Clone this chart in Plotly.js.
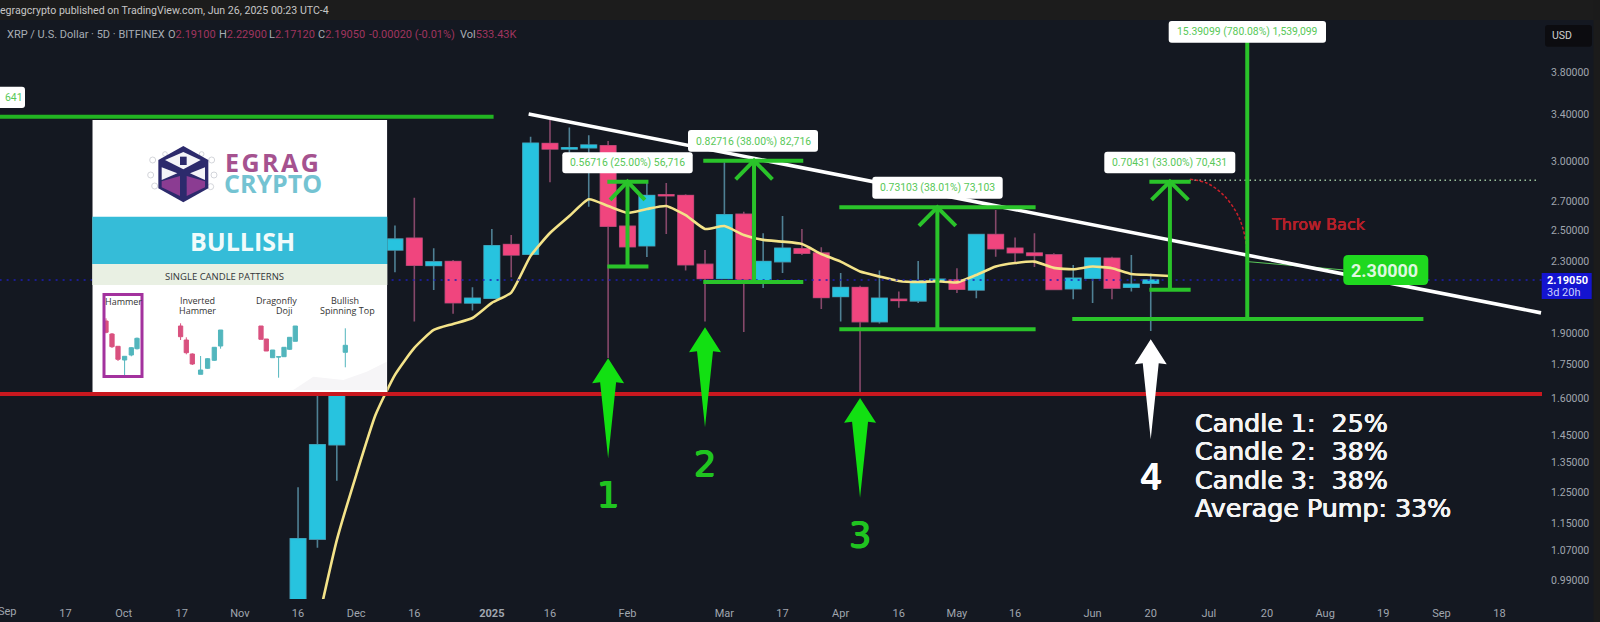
<!DOCTYPE html>
<html><head><meta charset="utf-8">
<script src="https://cdn.plot.ly/plotly-3.0.1.min.js"></script>
<style>html,body{margin:0;padding:0;background:#141821;overflow:hidden}#c{width:1600px;height:622px}</style>
</head><body><div id="c"></div>
<script>
// ---- main candles (index, open, high, low, close) ----
const candleIdx=[0,1,2,3,4,5,6,7,8,9,10,11,12,13,14,15,16,17,18,19,20,21,22,23,24,25,26,27,28,29,30,31,32,33,34,35,36,37,38,39,40,41,42,43,44];
const opens=[0.92,1.103,1.416,2.05,2.40,2.372,2.447,2.276,2.300,2.061,2.087,2.406,2.345,3.144,3.099,3.109,3.126,2.526,2.399,2.745,2.740,2.283,2.199,2.607,2.191,2.300,2.379,2.352,2.097,2.147,1.962,2.081,2.073,2.181,2.191,2.134,2.470,2.383,2.353,2.341,2.141,2.201,2.320,2.149,2.172];
const highs=[1.265,1.616,2.15,2.80,2.60,2.530,2.724,2.383,2.310,2.149,2.508,2.468,3.202,3.3465,3.28,3.215,3.166,2.555,2.832,2.832,2.749,2.372,2.992,2.625,2.480,2.596,2.508,2.389,2.231,2.158,2.246,2.125,2.304,2.220,2.260,2.475,2.637,2.452,2.480,2.352,2.280,2.322,2.330,2.341,2.229];
const lows=[0.90,1.078,1.287,1.95,2.25,2.236,1.962,2.134,2.003,2.020,2.087,2.207,2.345,2.838,2.962,2.660,1.782,2.372,2.328,2.475,2.246,1.962,2.199,1.909,2.144,2.231,2.341,2.028,1.962,1.625,1.952,2.036,2.061,2.173,2.117,2.087,2.330,2.292,2.268,2.135,2.082,2.061,2.082,2.125,1.914];
const closes=[1.104,1.416,2.05,2.40,2.372,2.441,2.278,2.298,2.063,2.087,2.399,2.341,3.147,3.099,3.109,3.131,2.526,2.393,2.740,2.739,2.281,2.199,2.604,2.195,2.300,2.383,2.352,2.092,2.147,1.962,2.087,2.075,2.185,2.195,2.138,2.470,2.380,2.355,2.338,2.137,2.201,2.322,2.144,2.166,2.1905];
// ---- moving average ----
const maIdx=[1,2,3,4,5,6,7,8,9,10,11,12,13,14,15,16,17,18,19,20,21,22,23,24,25,26,27,28,29,30,31,32,33,34,35,36,37,38,39,40,41,42,43,44,45];
const maVals=[0.879,1.100,1.307,1.533,1.704,1.830,1.919,1.950,1.981,2.062,2.119,2.335,2.481,2.595,2.713,2.665,2.617,2.644,2.665,2.601,2.508,2.527,2.468,2.436,2.425,2.410,2.347,2.300,2.240,2.211,2.185,2.179,2.183,2.177,2.220,2.270,2.291,2.300,2.262,2.254,2.270,2.260,2.226,2.220,2.214];
// ---- axes ----
const xTickVals=[-12,-9,-6,-3,0,3,6,10,13,17,22,25,28,31,34,37,41,44,47,50,53,56,59,62];
const xTickText=['17','Oct','17','Nov','16','Dec','16','<b>2025</b>','16','Feb','Mar','17','Apr','16','May','16','Jun','20','Jul','20','Aug','19','Sep','18'];
const yTickVals=[3.8,3.4,3.0,2.7,2.5,2.3,1.9,1.75,1.6,1.45,1.35,1.25,1.15,1.07,0.99];
const yTickText=['3.80000','3.40000','3.00000','2.70000','2.50000','2.30000','1.90000','1.75000','1.60000','1.45000','1.35000','1.25000','1.15000','1.07000','0.99000'];
// ---- drawn levels ----
const trendK=[11.90,64.14], trendP=[3.400,2.008];
const resistanceK=[-15.4,10.09], resistanceP=[3.376,3.376];
const supportK=[-15.4,64.2], supportP=[1.620,1.620];
const priceLineK=[-15.4,64.2], priceLineP=[2.1905,2.1905];
const targetDotK=[46.0,63.98], targetDotP=[2.853,2.853];
const connectorK=[48.98,53.95], connectorP=[2.300,2.250];
const bigBaseK=[39.95,58.07], bigBaseP=[1.975,1.975];
const bigRiseK=[48.98,48.98], bigRiseP=[1.975,4.125];
const throwK=[46.03,46.89,47.75,48.44,48.78,48.98];
const throwP=[2.860,2.832,2.744,2.615,2.501,2.361];
// measure tools
const measK=[17.0,23.53,32.99,44.99];
const measTop=[2.842,3.005,2.656,2.842];
const measBottom=[2.270,2.179,1.923,2.135];
const measHead=[2.708,2.860,2.528,2.708];
const measLeft=[15.96,20.91,27.93,43.93];
const measRight=[18.08,26.07,38.06,46.06];
const measHeadHalf=[0.9,0.95,0.95,0.95];
// big arrows
const arrowK=[16.0,21.0,29.0,44.0];
const arrowTip=[1.781,1.933,1.603,1.872];
const arrowTail=[1.366,1.483,1.231,1.437];
const arrowColor=['#12e012','#12e012','#12e012','#ffffff'];
// ---- inset mini candles ----
const miniX=[13.7,19.7,25.7,32.3,39,44.7,88.3,94,100,108.3,115.3,122,128.3,168.7,174,180.3,186.3,191.7,197.3,203,253];
const miniO=[71,58,45.7,32,37,43.3,66,52,38,17.7,23.7,31.7,46,66,53,34.3,35,35.3,42.7,50.7,39.7];
const miniH=[73.7,59,46,35.7,45,54.5,68.7,54.7,38.7,36,34,45,62,66,53,42,35.2,45,55,66,63.7];
const miniL=[58.7,44,31,17,35.7,42.5,52,37.7,27,17.7,23,31,43.3,52.7,41,34.3,14.3,35,42,50.7,24.7];
const miniC=[59.7,45.3,32.7,35.7,44.3,53.7,55.3,39.3,28,22,33.3,44.7,62,52.7,41,42,35.2,44.7,54.7,66,46.7];

const PW=1542,PH=579,PT=20;
const X=px=>px/PW, Y=py=>(PT+PH-py)/PH;
const kPerPx=1/19.38;
const GREEN='#2ac32a';
const traces=[];
traces.push({type:'candlestick',x:candleIdx,open:opens,high:highs,low:lows,close:closes,
  increasing:{line:{color:'#4f8094',width:1.6},fillcolor:'#27c3df'},
  decreasing:{line:{color:'#86486a',width:1.6},fillcolor:'#f0457e'},hoverinfo:'skip',showlegend:false,whiskerwidth:0});
traces.push({type:'candlestick',x:candleIdx,open:opens,close:closes,
  high:opens.map((o,i)=>Math.max(o,closes[i])),low:opens.map((o,i)=>Math.min(o,closes[i])),
  increasing:{line:{color:'#27c3df',width:0.5},fillcolor:'#27c3df'},
  decreasing:{line:{color:'#f0457e',width:0.5},fillcolor:'#f0457e'},hoverinfo:'skip',showlegend:false,whiskerwidth:0});
const line=(x,y,color,width,extra)=>({type:'scatter',mode:'lines',x,y,hoverinfo:'skip',showlegend:false,
  line:Object.assign({color,width},extra||{})});
traces.push(line(maIdx,maVals,'#f4e389',2.6,{shape:'spline',smoothing:0.5}));
traces.push(line(priceLineK,priceLineP,'#1e1eb4',1.6,{dash:'2px 5px'}));
traces.push(line(resistanceK,resistanceP,'#22b522',4));
traces.push(line(supportK,supportP,'#c9181f',4));
traces.push(line(connectorK,connectorP,'#5ac85a',1));
traces.push(line(trendK,trendP,'#ffffff',3.6));
traces.push(line(targetDotK,targetDotP,'#9cc49c',1.3,{dash:'1.5px 3.5px'}));
traces.push(line(throwK,throwP,'#c8202a',1.5,{dash:'3px 2px',shape:'spline'}));
measK.forEach((k,i)=>{
  traces.push(line([measLeft[i],measRight[i]],[measTop[i],measTop[i]],GREEN,4));
  traces.push(line([measLeft[i],measRight[i]],[measBottom[i],measBottom[i]],GREEN,4));
  traces.push(line([k,k],[measTop[i],measBottom[i]],GREEN,4));
  traces.push(line([k-measHeadHalf[i],k,k+measHeadHalf[i]],[measHead[i],measTop[i],measHead[i]],GREEN,4));
});
traces.push(line(bigBaseK,bigBaseP,GREEN,4));
traces.push(line(bigRiseK,bigRiseP,GREEN,4));
arrowK.forEach((k,i)=>{
  const a=Math.log(arrowTip[i]), b=Math.log(arrowTail[i]);
  const barb=Math.exp(a+(b-a)*0.25), sh=Math.exp(a+(b-a)*0.24);
  const hw=16*kPerPx, sw=8*kPerPx;
  traces.push({type:'scatter',mode:'lines',x:[k,k+hw,k+sw,k,k-sw,k-hw,k],
    y:[arrowTip[i],barb,sh,arrowTail[i],sh,barb,arrowTip[i]],fill:'toself',fillcolor:arrowColor[i],
    line:{width:0,color:arrowColor[i]},hoverinfo:'skip',showlegend:false});
});
// inset
traces.push({type:'candlestick',xaxis:'x2',yaxis:'y2',x:miniX,open:miniO,high:miniH,low:miniL,close:miniC,
  increasing:{line:{color:'#52b6bd',width:1},fillcolor:'#52b6bd'},
  decreasing:{line:{color:'#d9517f',width:1},fillcolor:'#d9517f'},hoverinfo:'skip',showlegend:false,whiskerwidth:0});

// ---- decorations ----
const rr=(x0,y0,x1,y1,r,fill)=>({type:'path',xref:'paper',yref:'paper',layer:'above',fillcolor:fill,line:{width:0},
  path:`M${X(x0+r)} ${Y(y0)} L${X(x1-r)} ${Y(y0)} Q${X(x1)} ${Y(y0)} ${X(x1)} ${Y(y0+r)} L${X(x1)} ${Y(y1-r)} Q${X(x1)} ${Y(y1)} ${X(x1-r)} ${Y(y1)} L${X(x0+r)} ${Y(y1)} Q${X(x0)} ${Y(y1)} ${X(x0)} ${Y(y1-r)} L${X(x0)} ${Y(y0+r)} Q${X(x0)} ${Y(y0)} ${X(x0+r)} ${Y(y0)} Z`});
const rect=(x0,y0,x1,y1,fill)=>({type:'rect',xref:'paper',yref:'paper',layer:'above',x0:X(x0),x1:X(x1),y0:Y(y0),y1:Y(y1),fillcolor:fill,line:{width:0}});
// logo polygons given in inset crop coordinates
const cx=c=>80+c/3, cy=c=>110+c/3;
const poly=(pts,fill,stroke)=>({type:'path',xref:'paper',yref:'paper',layer:'above',fillcolor:fill,line:stroke?{color:stroke,width:1}:{width:0},
  path:'M'+pts.map(p=>X(cx(p[0]))+' '+Y(cy(p[1]))).join(' L')+' Z'});
const ring=(c,r)=>({type:'circle',xref:'paper',yref:'paper',layer:'above',x0:X(cx(c[0]-r)),x1:X(cx(c[0]+r)),y0:Y(cy(c[1]+r)),y1:Y(cy(c[1]-r)),line:{color:'#c9ccd2',width:0.8},fillcolor:'rgba(0,0,0,0)'});
const shapes=[
  {type:'rect',xref:'x2',yref:'y2',layer:'below',x0:0,x1:295,y0:0,y1:272,fillcolor:'#ffffff',line:{width:0}},
  rect(92.3,216.7,387.3,264,'#35bcd8'),
  rect(92.3,264,387.3,285,'#e9f0e3'),
  poly([[640,840],[700,800],[790,810],[860,785],[920,755],[920,840]],'#f6f5f7'),
  ring([218,150],9),ring([212,195],9),ring([224,228],9),ring([395,150],9),ring([402,195],9),ring([392,230],9),ring([255,132],7),ring([365,132],7),
  poly([[310,108],[385,150],[385,235],[310,277],[235,235],[235,150]],'#2c2a6c'),
  poly([[245,214],[300,198],[300,258],[245,232]],'#8b3c92'),
  poly([[375,214],[320,198],[320,258],[375,232]],'#8b3c92'),
  poly([[255,150],[310,126],[362,150],[310,178]],'#f4f4f8'),
  poly([[245,172],[245,210],[292,190]],'#f4f4f8'),
  poly([[375,172],[375,210],[330,190]],'#f4f4f8'),
  poly([[300,140],[320,140],[320,165],[300,165]],'#2c2a6c'),
  {type:'rect',xref:'paper',yref:'paper',layer:'above',x0:X(104),x1:X(142),y0:Y(294.5),y1:Y(376.5),fillcolor:'rgba(0,0,0,0)',line:{color:'#a3329e',width:3}},
  rect(0,0,1600,20,'#1c1c1c'),
  rect(1593.5,0,1600,622,'#1b1b1b'),
  rr(1545,25,1592,46.7,3,'#0c0c10'),
  rect(1541.7,273,1591.7,299,'#1414d0'),
  rr(-8,86.7,25,108,3,'#ffffff'),
  rr(562.3,152.3,692.7,173.3,3,'#ffffff'),
  rr(688,130,818,151.7,3,'#ffffff'),
  rr(872.3,176.7,1002.7,198.7,3,'#ffffff'),
  rr(1104.3,151.7,1235.3,173.3,3,'#ffffff'),
  rr(1168.7,21,1326,42.7,3,'#ffffff'),
  rr(1343.3,255,1428.3,285,5,'#1fd81f'),
];
const T=(px,py,text,size,color,o)=>Object.assign({xref:'paper',yref:'paper',x:X(px),y:Y(py),text,showarrow:false,
  xanchor:'center',yanchor:'middle',font:{family:'Roboto',size,color},borderpad:0},o||{});
const L={xanchor:'left'};
const V=s=>`<span style="color:#a0355f">${s}</span>`;
const heavy=(size,color,w)=>({family:'DejaVu Sans',size,color,shadow:`${w}px 0 0 ${color}, -${w}px 0 0 ${color}, 0 ${w}px 0 ${color}`});
const OS=(size,color)=>({font:{family:'Open Sans',size,color}});
const annotations=[
  T(-1,10.7,'egragcrypto published on TradingView.com, Jun 26, 2025 00:23 UTC-4',10.6,'#c6c6c6',L),
  T(6,34.5,'XRP / U.S. Dollar · 5D · BITFINEX',11,'#a8adb5',L),
  T(167,34.5,'O'+V('2.19100'),11,'#a8adb5',L),
  T(218,34.5,'H'+V('2.22900'),11,'#a8adb5',L),
  T(268,34.5,'L'+V('2.17120'),11,'#a8adb5',L),
  T(317,34.5,'C'+V('2.19050'),11,'#a8adb5',L),
  T(368,34.5,V('-0.00020 (-0.01%)'),11,'#a8adb5',L),
  T(459,34.5,'Vol'+V('533.43K'),11,'#a8adb5',L),
  T(7,611,'Sep',11,'#a0a6af'),
  T(1562,36,'USD',10.5,'#d0d0d0'),
  T(1567,280,'<b>2.19050</b>',11,'#ffffff'),
  T(1564,292.7,'3d 20h',11,'#c9d0ff'),
  T(14,97.5,'641',10.4,'#58c858'),
  T(627.5,162.8,'0.56716 (25.00%) 56,716',10.4,'#58c858'),
  T(753,141,'0.82716 (38.00%) 82,716',10.4,'#58c858'),
  T(937.5,187.7,'0.73103 (38.01%) 73,103',10.4,'#58c858'),
  T(1169.8,162.5,'0.70431 (33.00%) 70,431',10.4,'#58c858'),
  T(1247.3,32,'15.39099 (780.08%) 1,539,099',10.4,'#58c858'),
  T(1318,224,'Throw Back',16,'#b5202a',{font:heavy(16,'#b5202a',0.25)}),
  T(1384.3,270,'<b>2.30000</b>',18,'#dff7df'),
  T(608.3,495,'1',35,'#20c420',{font:heavy(35,'#20c420',0.7)}),
  T(705,464.3,'2',35,'#20c420',{font:heavy(35,'#20c420',0.7)}),
  T(860,535,'3',35,'#20c420',{font:heavy(35,'#20c420',0.7)}),
  T(1150.7,477.3,'4',35,'#ffffff',{font:heavy(35,'#ffffff',0.7)}),
  T(1194.3,423,'Candle 1:  25%',25.3,'#f4f4f4',{xanchor:'left',font:heavy(25.3,'#f4f4f4',0.4)}),
  T(1194.3,451.7,'Candle 2:  38%',25.3,'#f4f4f4',{xanchor:'left',font:heavy(25.3,'#f4f4f4',0.4)}),
  T(1194.3,480,'Candle 3:  38%',25.3,'#f4f4f4',{xanchor:'left',font:heavy(25.3,'#f4f4f4',0.4)}),
  T(1194.3,508,'Average Pump: 33%',25.3,'#f4f4f4',{xanchor:'left',font:heavy(25.3,'#f4f4f4',0.4)}),
  // inset
  T(272.3,161.7,'<b>E\u200aG\u200aR\u200aA\u200aG</b>',25,'#a5528f',OS(25,'#a5528f')),
  T(272.6,183.3,'<b>CRYPTO</b>',25,'#74c3d2',OS(25,'#74c3d2')),
  T(242.3,240.7,'<b>BULLISH</b>',25,'#f0fbfb',OS(25,'#f0fbfb')),
  T(224,276.7,'SINGLE CANDLE PATTERNS',9.5,'#33363a',OS(9.5,'#33363a')),
  T(123.3,301.7,'Hammer',9,'#333',OS(9,'#333')),
  T(197.7,300.5,'Inverted',9,'#333',OS(9,'#333')),
  T(197.7,310.5,'Hammer',9,'#333',OS(9,'#333')),
  T(276,300.5,'Dragonfly',9,'#333',OS(9,'#333')),
  T(284,310.5,'Doji',9,'#333',OS(9,'#333')),
  T(345,300.5,'Bullish',9,'#333',OS(9,'#333')),
  T(347,310.5,'Spinning Top',9,'#333',OS(9,'#333')),
];
const layout={
  width:1600,height:622,margin:{l:0,r:58,t:20,b:23,pad:0},
  paper_bgcolor:'#141821',plot_bgcolor:'#141821',showlegend:false,hovermode:false,boxgap:0.2,boxgroupgap:0,
  font:{family:'Roboto',color:'#a0a6af',size:11},
  xaxis:{domain:[0,1],range:[-15.38,64.19],tickmode:'array',tickvals:xTickVals,ticktext:xTickText,showgrid:false,zeroline:false,showline:false,
    rangeslider:{visible:false},ticks:'outside',ticklen:4,tickcolor:'#141821',tickfont:{family:'Roboto',size:11,color:'#a0a6af'},fixedrange:true},
  yaxis:{domain:[0,1],type:'log',side:'right',range:[Math.log10(0.9412),Math.log10(4.361)],tickmode:'array',tickvals:yTickVals,ticktext:yTickText,showgrid:false,zeroline:false,showline:false,
    ticks:'outside',ticklen:6,tickcolor:'#141821',tickfont:{family:'Roboto',size:10.5,color:'#a0a6af'},fixedrange:true},
  xaxis2:{domain:[92.3/PW,387.3/PW],anchor:'y2',range:[0,295],visible:false,fixedrange:true,rangeslider:{visible:false}},
  yaxis2:{domain:[Y(392),Y(120)],anchor:'x2',range:[0,272],visible:false,fixedrange:true},
  shapes,annotations
};
Plotly.newPlot('c',traces,layout,{staticPlot:true,displayModeBar:false});
</script></body></html>
